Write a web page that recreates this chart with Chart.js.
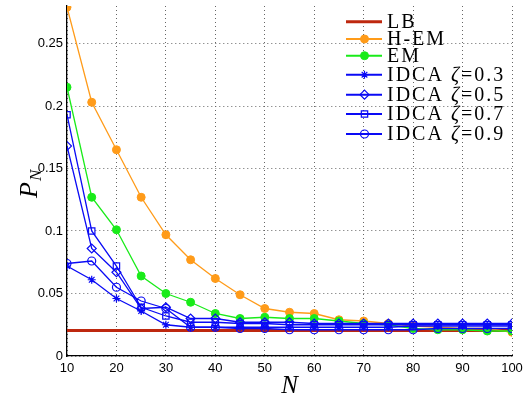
<!DOCTYPE html>
<html>
<head>
	<meta charset="utf-8">
	<title>P_N versus N</title>
	<script src="https://cdn.jsdelivr.net/npm/chart.js@4.4.0/dist/chart.umd.min.js"></script>
	<style>
		body { margin: 0; background: #fff; }
		#wrap { width: 530px; height: 398px; }
	</style>
</head>
<body>
	<div id="wrap"><canvas id="myChart" width="530" height="398"></canvas></div>

	<script>

		// N values (x axis)
		var N = [10, 15, 20, 25, 30, 35, 40, 45, 50, 55, 60, 65, 70, 75, 80, 85, 90, 95, 100];

		// P_N for every curve
		var lb    = [0.0205, 0.0205, 0.0205, 0.0205, 0.0205, 0.0205, 0.0205, 0.0205, 0.0205, 0.0205, 0.0205, 0.0205, 0.0205, 0.0205, 0.0205, 0.0205, 0.0205, 0.0205, 0.0205];
		var hem   = [0.279, 0.203, 0.165, 0.127, 0.097, 0.077, 0.062, 0.049, 0.038, 0.035, 0.034, 0.029, 0.028, 0.026, 0.024, 0.023, 0.022, 0.022, 0.019];
		var em    = [0.215, 0.127, 0.101, 0.064, 0.050, 0.043, 0.034, 0.030, 0.031, 0.030, 0.030, 0.028, 0.026, 0.025, 0.022, 0.021, 0.021, 0.020, 0.020];
		var idca3 = [0.072, 0.061, 0.046, 0.036, 0.025, 0.023, 0.023, 0.023, 0.023, 0.023, 0.023, 0.023, 0.023, 0.023, 0.024, 0.024, 0.024, 0.024, 0.024];
		var idca5 = [0.168, 0.086, 0.067, 0.038, 0.039, 0.030, 0.030, 0.027, 0.027, 0.027, 0.026, 0.026, 0.026, 0.026, 0.026, 0.026, 0.026, 0.026, 0.026];
		var idca7 = [0.193, 0.100, 0.072, 0.039, 0.032, 0.027, 0.027, 0.026, 0.026, 0.025, 0.025, 0.025, 0.025, 0.025, 0.025, 0.025, 0.025, 0.025, 0.025];
		var idca9 = [0.074, 0.076, 0.055, 0.044, 0.038, 0.023, 0.023, 0.022, 0.022, 0.021, 0.021, 0.021, 0.021, 0.021, 0.021, 0.022, 0.022, 0.022, 0.022];

		// y ticks shown
		var yTicks = [0, 0.05, 0.1, 0.15, 0.2, 0.25];

		function pts(arr) {
			return N.map(function (n, i) { return { x: n, y: arr[i] }; });
		}

		var BLUE = 'rgb(10,10,245)';

		// legend + axis titles drawn on top
		var overlay = {
			id: 'overlay',
			afterDraw: function (chart) {
				var ctx = chart.ctx;
				var area = chart.chartArea;
				ctx.save();
				ctx.fillStyle = '#000';

				// x title
				ctx.font = 'italic 25px "Liberation Serif"';
				ctx.textAlign = 'center';
				ctx.textBaseline = 'alphabetic';
				ctx.fillText('N', (area.left + area.right) / 2, 393);

				// y title P_N
				ctx.save();
				ctx.translate(37, 198);
				ctx.rotate(-Math.PI / 2);
				ctx.textAlign = 'left';
				ctx.font = 'italic 26px "Liberation Serif"';
				ctx.fillText('P', 0, 0);
				var w = ctx.measureText('P').width;
				ctx.font = 'italic 17px "Liberation Serif"';
				ctx.fillText('N', w + 1, 4);
				ctx.restore();

				// legend
				var rows = [21.7, 39, 55.7, 74.7, 94.7, 114, 134];
				chart.data.datasets.forEach(function (ds, i) {
					var y = rows[i];
					ctx.save();
					ctx.strokeStyle = ds.borderColor;
					ctx.lineWidth = ds.legendWidth;
					ctx.beginPath();
					ctx.moveTo(346, y);
					ctx.lineTo(382, y);
					ctx.stroke();
					if (ds.pointRadius > 0) {
						ctx.fillStyle = ds.pointBackgroundColor;
						ctx.strokeStyle = ds.borderColor;
						ctx.lineWidth = ds.pointBorderWidth;
						Chart.helpers.drawPoint(ctx, {
							pointStyle: ds.pointStyle,
							radius: ds.pointRadius,
							borderWidth: ds.pointBorderWidth,
							rotation: 0
						}, 364.5, y);
					}
					ctx.restore();

					ctx.fillStyle = '#000';
					ctx.font = '20px "Liberation Serif"';
					ctx.letterSpacing = '2px';
					ctx.textAlign = 'left';
					ctx.textBaseline = 'middle';
					var parts = ds.label.split('ζ');
					var x = 387;
					ctx.fillText(parts[0], x, y + 1);
					if (parts.length > 1) {
						x += ctx.measureText(parts[0]).width;
						ctx.font = 'italic 20px "Liberation Serif"';
						ctx.fillText('ζ', x, y + 1);
						x += ctx.measureText('ζ').width;
						ctx.font = '20px "Liberation Serif"';
						ctx.fillText(parts[1], x, y + 1);
					}
				});
				ctx.restore();
			}
		};

		var ctx = document.getElementById('myChart').getContext('2d');
		var chart = new Chart(ctx, {
			type: 'line',
			data: {
				datasets: [{
					label: 'LB',
					data: pts(lb),
					borderColor: 'rgb(190,40,15)',
					borderWidth: 3,
					legendWidth: 3,
					pointRadius: 0,
					order: 6
				},
				{
					label: 'H-EM',
					data: pts(hem),
					borderColor: 'rgb(255,155,25)',
					pointBackgroundColor: 'rgb(255,155,25)',
					borderWidth: 1.3,
					legendWidth: 2,
					pointStyle: 'circle',
					pointRadius: 4,
					pointBorderWidth: 1,
					order: 5
				},
				{
					label: 'EM',
					data: pts(em),
					borderColor: 'rgb(25,235,25)',
					pointBackgroundColor: 'rgb(25,235,25)',
					borderWidth: 1.3,
					legendWidth: 2,
					pointStyle: 'circle',
					pointRadius: 4,
					pointBorderWidth: 1,
					order: 4
				},
				{
					label: 'IDCA ζ=0.3',
					data: pts(idca3),
					borderColor: BLUE,
					pointBackgroundColor: 'rgba(0,0,0,0)',
					borderWidth: 1.3,
					legendWidth: 2,
					pointStyle: 'star',
					pointRadius: 4,
					pointBorderWidth: 1.2,
					order: 3
				},
				{
					label: 'IDCA ζ=0.5',
					data: pts(idca5),
					borderColor: BLUE,
					pointBackgroundColor: 'rgba(0,0,0,0)',
					borderWidth: 1.3,
					legendWidth: 2,
					pointStyle: 'rectRot',
					pointRadius: 4.5,
					pointBorderWidth: 1.2,
					order: 2
				},
				{
					label: 'IDCA ζ=0.7',
					data: pts(idca7),
					borderColor: BLUE,
					pointBackgroundColor: 'rgba(0,0,0,0)',
					borderWidth: 1.3,
					legendWidth: 2,
					pointStyle: 'rect',
					pointRadius: 4.5,
					pointBorderWidth: 1.2,
					order: 1
				},
				{
					label: 'IDCA ζ=0.9',
					data: pts(idca9),
					borderColor: BLUE,
					pointBackgroundColor: 'rgba(0,0,0,0)',
					borderWidth: 1.3,
					legendWidth: 2,
					pointStyle: 'circle',
					pointRadius: 4,
					pointBorderWidth: 1.2,
					order: 0
				}]
			},
			options: {
				responsive: false,
				animation: false,
				devicePixelRatio: 1,
				layout: { padding: { left: 0, right: 18, top: 6, bottom: 0 } },
				plugins: {
					legend: { display: false },
					tooltip: { enabled: false }
				},
				elements: { line: { tension: 0 } },
				scales: {
					x: {
						type: 'linear',
						min: 10,
						max: 100,
						ticks: {
							stepSize: 10,
							color: '#000',
							padding: 5,
							font: { family: 'Liberation Sans', size: 13 }
						},
						grid: { color: '#666', lineWidth: 1, drawTicks: false },
						border: { color: '#000', width: 1.3, dash: [1, 3] },
						afterFit: function (scale) {
							scale.height = 42;
							scale.paddingLeft = 0;
							scale.paddingRight = 0;
						}
					},
					y: {
						min: 0,
						max: 0.28,
						afterBuildTicks: function (scale) {
							scale.ticks = yTicks.map(function (v) { return { value: v }; });
						},
						ticks: {
							color: '#000',
							padding: 4,
							font: { family: 'Liberation Sans', size: 13 },
							callback: function (v) { return String(+v.toFixed(2)); }
						},
						grid: { color: '#666', lineWidth: 1, drawTicks: false },
						border: { color: '#000', width: 1.3, dash: [1, 3] },
						afterFit: function (scale) {
							scale.width = 67;
							scale.paddingTop = 0;
							scale.paddingBottom = 0;
						}
					}
				}
			},
			plugins: [overlay]
		});

	</script>
</body>
</html>
